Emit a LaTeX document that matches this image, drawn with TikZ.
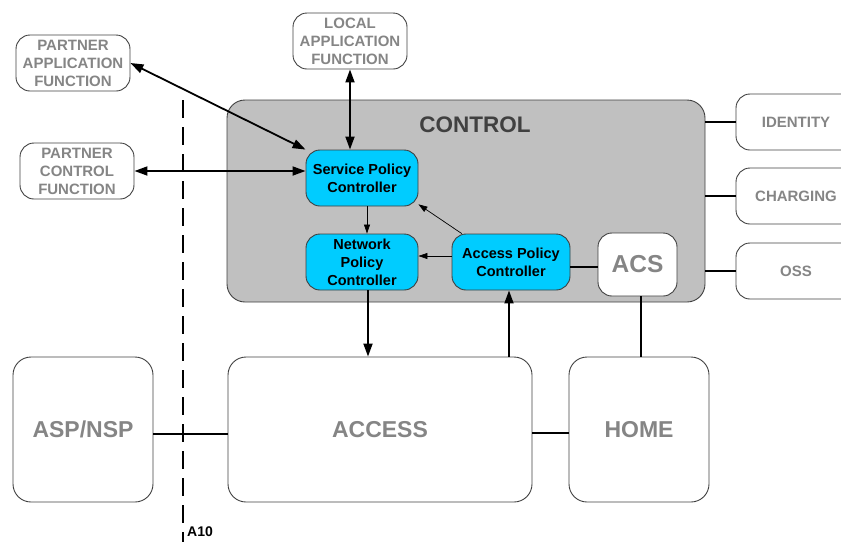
\documentclass[tikz,border=0pt]{standalone}
\usepackage{fontspec}
\setmainfont{Liberation Sans}
\usetikzlibrary{arrows.meta}
\definecolor{ctrlgray}{HTML}{C0C0C0}
\definecolor{polcyan}{HTML}{00CCFF}
\definecolor{txtgray}{HTML}{858585}
\definecolor{edgegray}{HTML}{404040}
\tikzset{
  outer/.style={draw=edgegray, line width=0.9pt, rounded corners=14pt, minimum width=114pt, minimum height=56pt, align=center,
    text=txtgray, font=\fontsize{15}{18}\selectfont\bfseries, inner sep=1pt},
  policy/.style={draw=edgegray, line width=0.9pt, fill=polcyan, rounded corners=14pt, minimum width=112pt, minimum height=56pt,
    align=center, font=\fontsize{14.5}{18}\selectfont\bfseries, inner sep=1pt},
  bigbox/.style={draw=edgegray, line width=0.9pt, rounded corners=18pt, minimum width=140pt, minimum height=145pt,
    text=txtgray, font=\fontsize{23}{26}\selectfont\bfseries},
  link/.style={line width=1.8pt},
  thin link/.style={line width=0.7pt, -{Triangle[length=9pt,width=6pt]}},
  fat arrow/.style={line width=1.8pt, -{Triangle[length=13pt,width=9pt]}},
  fat both/.style={line width=1.8pt, {Triangle[length=13pt,width=9pt]}-{Triangle[length=13pt,width=9pt]}},
}
\begin{document}
\begin{tikzpicture}[x=1pt,y=-1pt]
  \useasboundingbox (0,0) rectangle (841,542);
  % control domain
  \node[draw=edgegray, line width=0.9pt, fill=ctrlgray, rounded corners=18pt, minimum width=478pt, minimum height=202pt] (ctrl) at (466,201) {};
  \node[text=black!75, font=\fontsize{22.5}{26}\selectfont\bfseries] (ctrln) at (475,125) {CONTROL};
  % outside functions
  \node[outer] (paf) at (73,63) {PARTNER\\APPLICATION\\FUNCTION};
  \node[outer] (laf) at (350,41) {LOCAL\\APPLICATION\\FUNCTION};
  \node[outer] (pcf) at (77,171) {PARTNER\\CONTROL\\FUNCTION};
  \node[outer, minimum width=120pt] (idn) at (796,122) {IDENTITY};
  \node[outer, minimum width=120pt] (chg) at (796,196) {CHARGING};
  \node[outer, minimum width=120pt] (oss) at (796,271) {OSS};
  % policy controllers
  \node[policy] (spc) at (362,178) {Service Policy\\Controller};
  \node[policy] (npc) at (362,262) {Network\\Policy\\Controller};
  \node[policy, minimum width=118pt] (apc) at (511,262) {Access Policy\\Controller};
  \node[draw=edgegray, line width=0.9pt, fill=white, rounded corners=14pt, minimum width=79pt, minimum height=63pt,
    text=txtgray, font=\fontsize{24.5}{28}\selectfont\bfseries] (acs) at (637.5,264.5) {ACS};
  % lower domains
  \node[bigbox] (asp) at (83,429.5) {ASP/NSP};
  \node[bigbox, minimum width=304pt] (acc) at (380,429.5) {ACCESS};
  \node[bigbox] (home) at (639,429.5) {HOME};
  % reference point
  \coordinate (a10t) at (183,100);
  \coordinate (a10b) at (183,542);
  \draw[line width=1.8pt, dash pattern=on 18pt off 9pt] (a10t) -- (a10b);
  \node[anchor=west, font=\fontsize{14}{16}\selectfont\bfseries, inner sep=1pt] (a10) at (186,532) {A10};
  % connectors
  \draw[fat both] (paf.east) -- (spc.north west);
  \draw[fat both] (pcf.east) -- (pcf.east -| spc.west);
  \draw[fat both] (laf.south) -- (laf.south |- spc.north);
  \draw[thin link] (spc.south -| 367,0) -- (npc.north -| 367,0);
  \draw[thin link] (apc.150) -- (spc.-25);
  \draw[thin link] (apc.west |- 0,256) -- (npc.east |- 0,256);
  \draw[link] (apc.east |- 0,267) -- (acs.west |- 0,267);
  \draw[fat arrow] (npc.south -| 368,0) -- (acc.north -| 368,0);
  \draw[fat arrow] (acc.north -| 509,0) -- (apc.south -| 509,0);
  \draw[link] (acs.south -| 641,0) -- (home.north -| 641,0);
  \draw[link] (asp.east |- 0,434) -- (acc.west |- 0,434);
  \draw[link] (acc.east |- 0,433) -- (home.west |- 0,433);
  \draw[link] (ctrl.east |- idn.west) -- (idn.west);
  \draw[link] (ctrl.east |- chg.west) -- (chg.west);
  \draw[link] (ctrl.east |- oss.west) -- (oss.west);
\end{tikzpicture}
\end{document}
